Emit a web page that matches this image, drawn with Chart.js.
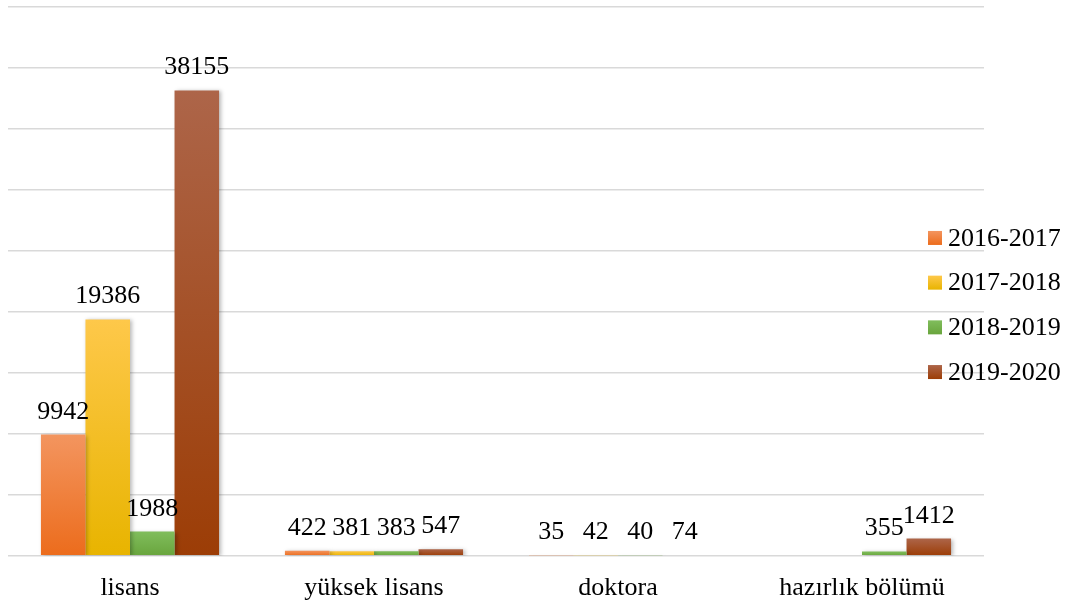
<!DOCTYPE html>
<html>
<head>
<meta charset="utf-8">
<script src="https://cdn.jsdelivr.net/npm/chart.js@4.4.0/dist/chart.umd.min.js"></script>
<style>
    body { margin: 0; background: #fff; }
    #wrap { width: 1074px; height: 610px; position: relative; }
</style>
</head>
<body>
<div id="wrap"><canvas id="chart"></canvas></div>
<script>
const categories = ['lisans', 'yüksek lisans', 'doktora', 'hazırlık bölümü'];
const seriesNames = ['2016-2017', '2017-2018', '2018-2019', '2019-2020'];
const values2016 = [9942, 422, 35, null];
const values2017 = [19386, 381, 42, null];
const values2018 = [1988, 383, 40, 355];
const values2019 = [38155, 547, 74, 1412];
const yTicks = [0, 5000, 10000, 15000, 20000, 25000, 30000, 35000, 40000, 45000];

// top, bottom colours of each series' gradient
const palette = [
    ['#f3955f', '#ec6c1c'],
    ['#fec84a', '#e8b400'],
    ['#80bd5c', '#69a53d'],
    ['#ad6549', '#9c3d06']
];

const FONT = '"Liberation Serif", "Times New Roman", serif';

function barFill(i) {
    return function(c) {
        const chart = c.chart;
        const area = chart.chartArea;
        if (!area || c.raw == null) return palette[i][0];
        const y = chart.scales.y;
        const top = y.getPixelForValue(c.raw);
        const bottom = y.getPixelForValue(0);
        if (bottom - top < 1) return palette[i][1];
        const g = chart.ctx.createLinearGradient(0, top, 0, bottom);
        g.addColorStop(0, palette[i][0]);
        g.addColorStop(1, palette[i][1]);
        return g;
    };
}

const shadowPlugin = {
    id: 'barShadow',
    beforeDatasetsDraw(chart) {
        const ctx = chart.ctx;
        ctx.save();
        ctx.shadowColor = 'rgba(0,0,0,0.28)';
        ctx.shadowBlur = 4;
        ctx.shadowOffsetX = 2;
        ctx.shadowOffsetY = 1;
    },
    afterDatasetsDraw(chart) {
        chart.ctx.restore();
    }
};

const labelPlugin = {
    id: 'valueLabels',
    afterDatasetsDraw(chart) {
        const ctx = chart.ctx;
        ctx.save();
        ctx.font = '26px ' + FONT;
        ctx.fillStyle = '#000';
        ctx.textAlign = 'center';
        ctx.textBaseline = 'alphabetic';
        chart.data.datasets.forEach((ds, di) => {
            const meta = chart.getDatasetMeta(di);
            meta.data.forEach((bar, i) => {
                if (ds.data[i] == null) return;
                ctx.fillText(String(ds.data[i]), bar.x, bar.y - 16);
            });
        });
        ctx.restore();
    }
};

const legendPlugin = {
    id: 'sideLegend',
    afterDraw(chart) {
        const ctx = chart.ctx;
        const step = 44.7;
        const x = 928;
        const startY = chart.height / 2 - step * (seriesNames.length - 1) / 2;
        ctx.save();
        ctx.font = '26px ' + FONT;
        ctx.textBaseline = 'middle';
        seriesNames.forEach((name, i) => {
            const cy = startY + i * step;
            const g = ctx.createLinearGradient(0, cy - 7, 0, cy + 7);
            g.addColorStop(0, palette[i][0]);
            g.addColorStop(1, palette[i][1]);
            ctx.fillStyle = g;
            ctx.fillRect(x, cy - 7, 14, 14);
            ctx.fillStyle = '#000';
            ctx.fillText(name, x + 20, cy + 1);
        });
        ctx.restore();
    }
};

const allSeries = [values2016, values2017, values2018, values2019];

document.addEventListener('DOMContentLoaded', function() {
    const ctx = document.getElementById('chart').getContext('2d');
    new Chart(ctx, {
        type: 'bar',
        data: {
            labels: categories,
            datasets: allSeries.map((vals, i) => ({
                label: seriesNames[i],
                data: vals,
                backgroundColor: barFill(i),
                borderWidth: 0,
                barPercentage: 1,
                categoryPercentage: 0.73
            }))
        },
        options: {
            responsive: true,
            maintainAspectRatio: false,
            animation: false,
            layout: { padding: { left: 8, right: 90, top: 7, bottom: -11 } },
            plugins: {
                legend: { display: false },
                tooltip: { enabled: false }
            },
            scales: {
                x: {
                    grid: { display: false, drawTicks: false },
                    border: { display: false },
                    ticks: {
                        color: '#000',
                        padding: 17,
                        font: { family: FONT, size: 26, lineHeight: 1.2 }
                    }
                },
                y: {
                    min: 0,
                    max: 45000,
                    afterBuildTicks(scale) {
                        scale.ticks = yTicks.map(v => ({ value: v }));
                    },
                    grid: { color: '#d9d9d9', lineWidth: 1.5, drawTicks: false },
                    border: { display: false },
                    ticks: { display: false }
                }
            }
        },
        plugins: [shadowPlugin, labelPlugin, legendPlugin]
    });
});
</script>
</body>
</html>
